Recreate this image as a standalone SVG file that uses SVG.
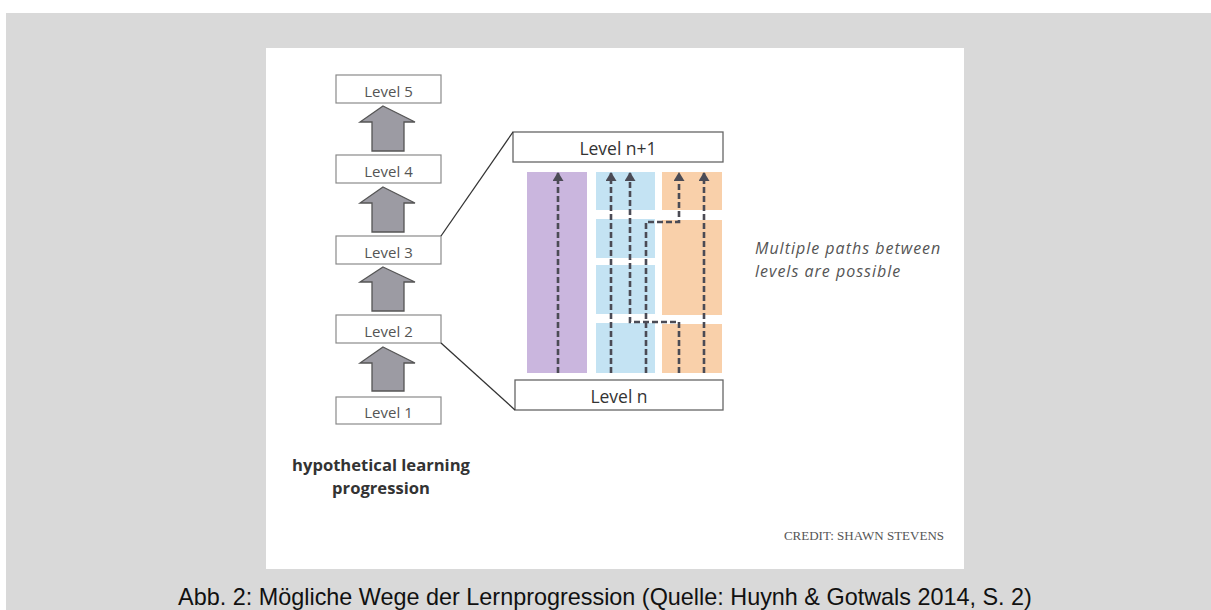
<svg xmlns="http://www.w3.org/2000/svg" width="1211" height="610" viewBox="0 0 1211 610">
<defs>
<style>
.lvl rect{fill:#fff;stroke:#8a8a8a;stroke-width:1.2}
.lvl text{font-family:"Open Sans","Liberation Sans",sans-serif;font-size:15px;fill:#555;text-anchor:middle}
.big rect{fill:#fff;stroke:#666;stroke-width:1.3}
.big text{font-family:"Open Sans","Liberation Sans",sans-serif;font-size:17.5px;fill:#333;text-anchor:middle}
.up{fill:#9c9ba3;stroke:#555;stroke-width:1.3;stroke-linejoin:miter}
.dash{fill:none;stroke:#4b4b55;stroke-width:2.6;stroke-dasharray:6 3}
.conn{stroke:#333;stroke-width:1.3;fill:none}
</style>
<marker id="ah" viewBox="0 0 9 11" refX="8" refY="5.5" markerWidth="9" markerHeight="11" markerUnits="userSpaceOnUse" orient="auto">
<path d="M0,0 L9,5.5 L0,11 Z" fill="#4b4b55"/>
</marker>
</defs>
<rect x="0" y="0" width="1211" height="610" fill="#fff"/>
<rect x="6" y="13" width="1205" height="597" fill="#d9d9d9"/>
<rect x="266" y="48" width="698" height="521" fill="#fff"/>

<g id="level5" class="lvl"><rect x="336" y="75" width="105" height="28"/><text x="388.5" y="97">Level 5</text></g>
<g id="level4" class="lvl"><rect x="336" y="155" width="105" height="28"/><text x="388.5" y="177">Level 4</text></g>
<g id="level3" class="lvl"><rect x="336" y="236" width="105" height="28"/><text x="388.5" y="258">Level 3</text></g>
<g id="level2" class="lvl"><rect x="336" y="315" width="105" height="28"/><text x="388.5" y="337">Level 2</text></g>
<g id="level1" class="lvl"><rect x="336" y="397" width="105" height="27"/><text x="388.5" y="418">Level 1</text></g>

<g id="arrows-up">
<path class="up" d="M383,106 L415,122 L404,122 L404,151 L372,151 L372,122 L360,122 Z"/>
<path class="up" d="M383,187 L415,203 L404,203 L404,232 L372,232 L372,203 L360,203 Z"/>
<path class="up" d="M383,267 L415,282 L404,282 L404,311 L372,311 L372,282 L360,282 Z"/>
<path class="up" d="M383,347 L415,363 L404,363 L404,391 L372,391 L372,363 L360,363 Z"/>
</g>

<g id="label-hlp" font-family="Open Sans,Liberation Sans,sans-serif" font-weight="bold" font-size="16.6" fill="#333" text-anchor="middle">
<text x="381" y="471">hypothetical learning</text>
<text x="381" y="494">progression</text>
</g>

<g id="columns">
<rect x="527" y="172" width="60" height="201" fill="#cab6de"/>
<rect x="596" y="172" width="59" height="38" fill="#c4e3f3"/>
<rect x="596" y="219" width="59" height="39" fill="#c4e3f3"/>
<rect x="596" y="265" width="59" height="49" fill="#c4e3f3"/>
<rect x="596" y="323" width="59" height="50" fill="#c4e3f3"/>
<rect x="662" y="172" width="60" height="38" fill="#f9d0aa"/>
<rect x="662" y="220" width="60" height="95" fill="#f9d0aa"/>
<rect x="662" y="324" width="60" height="49" fill="#f9d0aa"/>
</g>

<g id="levelnp1" class="big"><rect x="513" y="132" width="210" height="30"/><text x="618" y="155">Level n+1</text></g>
<g id="leveln" class="big"><rect x="515" y="380" width="208" height="30"/><text x="619" y="403">Level n</text></g>

<g id="connectors">
<line class="conn" x1="441" y1="236" x2="513" y2="132"/>
<line class="conn" x1="441" y1="343" x2="515" y2="410"/>
<path class="dash" marker-end="url(#ah)" d="M558,373 L558,173"/>
<path class="dash" marker-end="url(#ah)" d="M611,373 L611,173"/>
<path class="dash" marker-end="url(#ah)" d="M679,373 L679,322 L630,322 L630,173"/>
<path class="dash" marker-end="url(#ah)" d="M646,373 L646,222 L679,222 L679,173"/>
<path class="dash" marker-end="url(#ah)" d="M704,373 L704,173"/>
</g>

<g id="note" font-family="Open Sans,Liberation Sans,sans-serif" font-style="italic" font-size="16" letter-spacing="1" fill="#555">
<text x="755" y="254">Multiple paths between</text>
<text x="755" y="277">levels are possible</text>
</g>

<text id="credit" x="944" y="540" text-anchor="end" font-family="Liberation Serif,serif" font-size="13" fill="#555">CREDIT: SHAWN STEVENS</text>

<text id="caption" x="605" y="605" text-anchor="middle" font-family="Liberation Sans,Arial,sans-serif" font-size="23.4" fill="#111">Abb. 2: Mögliche Wege der Lernprogression (Quelle: Huynh &amp; Gotwals 2014, S. 2)</text>
</svg>
